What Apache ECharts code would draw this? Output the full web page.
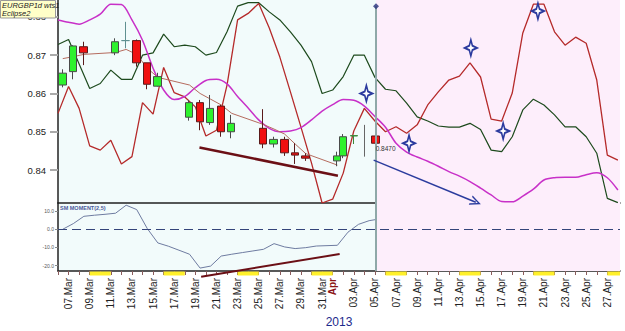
<!DOCTYPE html>
<html><head><meta charset="utf-8">
<script src="https://cdn.jsdelivr.net/npm/echarts@6/dist/echarts.min.js"></script>
<style>html,body{margin:0;padding:0;background:#fff}#c{width:625px;height:331px}</style>
</head><body><div id="c"></div>
<script>
// x unit = days; 0 = start of 06 Mar 2013
const X_MAX = 53.2;
const cursorX = 30.1;
const dayTicks = [0,1,2,3,4,5,6,7,8,9,10,11,12,13,14,15,16,17,18,19,20,21,22,23,24,25,26,27,28,29,30,31,32,33,34,35,36,37,38,39,40,41,42,43,44,45,46,47,48,49,50,51,52,53];
const labelDays = [1,3,5,7,9,11,13,15,17,19,21,23,25,26,28,30,32,34,36,38,40,42,44,46,48,50,52];
const labelTexts = ['07.Mar','09.Mar','11.Mar','13.Mar','15.Mar','17.Mar','19.Mar','21.Mar','23.Mar','25.Mar','27.Mar','29.Mar','31.Mar','Apr','03.Apr','05.Apr','07.Apr','09.Apr','11.Apr','13.Apr','15.Apr','17.Apr','19.Apr','21.Apr','23.Apr','25.Apr','27.Apr'];
const mainYTicks = [0.84,0.85,0.86,0.87,0.88];
const lowYTicks = [10,0,-10,-20];
const weekends = [[3,5],[10,12],[17,19],[24,26],[31,33],[38,40],[45,47],[52,53.2]];

// daily line values at day boundaries 0..53
const greenLine = [0.8728,0.8741,null,0.8613,0.8626,0.8661,0.8637,0.8637,0.8700,0.8706,
 0.8755,0.8722,0.8726,0.8722,0.8700,0.8707,0.8761,0.8828,0.8837,0.8837,
 0.8813,0.8792,0.8761,0.8726,0.8683,0.8600,0.8609,0.8644,0.8700,0.8700,
 0.8642,0.8611,0.8607,0.8575,0.8539,0.8528,0.8515,0.8512,0.8512,0.8522,
 0.8506,0.8452,0.8448,0.8487,0.8557,0.8585,0.8570,0.8544,0.8513,0.8513,
 0.8487,0.8444,0.8326,0.8315];
const redLine = [0.8548,0.8618,0.8561,0.8463,0.8452,0.8478,0.8416,0.8435,0.8576,0.8546,
 0.8668,0.8602,0.8591,0.8565,0.8489,0.8504,0.8622,0.8792,0.8809,0.8835,
 0.8771,0.8695,0.8604,0.8512,0.8418,0.8314,0.8324,0.8392,0.8502,0.8561,
 0.8528,0.8500,0.8513,0.8496,0.8518,0.8570,0.8604,0.8635,0.8645,0.8680,
 0.8643,0.8533,0.8528,0.8601,0.8758,0.8833,0.8833,0.8761,0.8726,0.8747,
 0.8731,0.8635,0.8439,0.8426];
const magentaLine = [0.8792,0.8786,0.8781,0.8792,0.8807,0.8833,0.8832,0.8792,0.8739,0.8666,
 0.8609,0.8584,0.8592,0.8615,0.8634,0.8637,0.8625,0.8592,0.8562,0.8531,
 0.8509,0.8500,0.8502,0.8511,0.8531,0.8554,0.8571,0.8584,0.8582,0.8567,
 0.8540,0.8512,0.8470,0.8447,0.8434,0.8423,0.8410,0.8396,0.8384,0.8370,
 0.8353,0.8335,0.8318,0.8317,0.8332,0.8350,0.8374,0.8380,0.8381,0.8381,
 0.8388,0.8393,0.8380,0.8348];
// moving average and momentum per day (bar time = day + 0.45)
const maLine = [0.8691,0.8696,0.8702,null,null,0.8707,0.8715,0.8702,0.8666,0.8642,
 null,null,0.8622,0.8600,0.8585,0.8570,0.8548,null,null,0.8519,
 0.8507,0.8494,0.8468,0.8443,null,null,0.8413];
const momentum = [0,3.1,7.1,7.7,8.2,8.8,13.2,10.8,0.4,-7.5,
 -9.3,-11.5,-13.7,-21.3,-20.2,-14.7,-13.7,-12.8,-11.9,-11.0,
 -7.9,-9.7,-10.6,-10.1,-9.2,null,-8.8,-1.6,2.7,4.7];
const momentumLast = [30.07, 5.3];

// candles
const candleX     = [0.43,1.43,2.43,5.4,6.4,7.44,8.41,9.44,12.4,13.44,14.41,15.43,16.4,19.4,20.4,21.45,22.42,23.44,26.42,27.0,28.0,30.07];
const candleOpen  = [0.8622,0.8657,0.8722,0.8706,0.8738,0.8738,0.8680,0.8619,0.8538,0.8576,0.8524,0.8567,0.8500,0.8509,0.8468,0.8480,0.8445,0.8437,0.8424,0.8437,0.8489,0.8489];
const candleClose = [0.8653,0.8724,0.8706,0.8735,0.8738,0.8680,0.8624,0.8644,0.8576,0.8526,0.8561,0.8500,0.8522,0.8468,0.8480,0.8445,0.8439,0.8431,0.8437,0.8487,0.8490,0.8470];
const candleLow   = [0.8616,0.8637,0.8674,0.8700,0.8718,0.8670,0.8611,0.8618,0.8529,0.8504,0.8518,0.8487,0.8483,0.8457,0.8459,0.8437,0.8416,0.8424,0.8410,0.8431,0.8468,0.8470];
const candleHigh  = [0.8663,0.8726,0.8735,0.8744,0.8787,0.8741,0.8680,0.8654,0.8583,0.8583,0.8596,0.8570,0.8544,0.8559,0.8487,0.8487,0.8470,0.8444,0.8448,0.8494,0.8491,0.8489];
const wickX = [29.03], wickLow = [0.8435], wickHigh = [0.8518], wickMid = [0.8476];

// signal stars
const starX = [29.19,33.23,39.08,42.14,45.43];
const starY = [0.8600,0.8470,0.8719,0.8502,0.8815];

// drawn trend lines / arrow
const trendMain = [[13.39,0.8459],[26.5,0.8385]];
const trendLow = [[13.55,-26.0],[26.66,-13.6]];
const arrowMain = [[29.88,0.8426],[39.55,0.8316]];
const cursorTop = 0.8828;

const fmtX = v => { const i = labelDays.indexOf(Math.round(v)); if (i < 0) return ''; const t = labelTexts[i]; return t === 'Apr' ? '{apr|Apr}' : t; };

const candleData = candleX.map((x,i) => {
  const item = {value:[x,candleOpen[i],candleClose[i],candleLow[i],candleHigh[i]]};
  if (candleOpen[i] === candleClose[i]) item.itemStyle = {borderColor:'#5f9090', borderColor0:'#5f9090', borderColorDoji:'#5f9090'};
  if (i === 20) item.itemStyle = {borderColor:'#3c8a3c', color:'#3c8a3c'};
  return item;
});
const lastClose = candleClose[candleClose.length-1];
const momentumData = momentum.map((v,i)=>[i+0.45,v]).concat([momentumLast]);

const starPath = 'path://M10,0 L12.6,7.4 L20,10 L12.6,12.6 L10,20 L7.4,12.6 L0,10 L7.4,7.4 Z';
const chevron = 'path://M5,0 L10,10 L8.5,10 L5,3 L1.5,10 L0,10 Z';

const chart = echarts.init(document.getElementById('c'), null, {renderer:'svg', width:625, height:331});
chart.setOption({
  animation:false,
  backgroundColor:'#ffffff',
  textStyle:{fontFamily:'"Liberation Sans", Arial, sans-serif'},
  grid:[
    {left:58,right:5,top:0,height:203,show:true,backgroundColor:'#f2fbfb',borderWidth:0},
    {left:58,right:5,top:203,height:68,show:true,backgroundColor:'#f2fbfb',borderWidth:0},
    {left:58,right:5,top:271.5,height:4}
  ],
  title:{text:'SM MOMENT(2,5)',left:60,top:204.5,padding:0,
    textStyle:{fontSize:5.5,fontWeight:'bold',color:'#4a5a9a',fontFamily:'"Liberation Sans Narrow","Liberation Sans",sans-serif'}},
  xAxis:[
    {gridIndex:0,type:'value',min:0,max:X_MAX,axisLine:{show:true,onZero:false,lineStyle:{color:'#222',width:1.5}},axisTick:{show:false},axisLabel:{show:false},splitLine:{show:false}},
    {gridIndex:1,type:'value',min:0,max:X_MAX,axisLine:{show:true,onZero:false,lineStyle:{color:'#222',width:1.5}},
      axisTick:{show:true,customValues:dayTicks,length:4,lineStyle:{color:'#8a5c5c'}},
      axisLabel:{show:true,customValues:labelDays,rotate:90,formatter:fmtX,fontSize:10,color:'#222',margin:7,
        rich:{apr:{color:'#8b1515',fontWeight:'bold',fontSize:10}}},
      splitLine:{show:false},
      name:'2013',nameLocation:'middle',nameGap:45,nameTextStyle:{color:'#1c2a8c',fontSize:12}},
    {gridIndex:2,type:'value',min:0,max:X_MAX,show:false}
  ],
  yAxis:[
    {gridIndex:0,type:'value',min:0.8314,max:0.8844,axisLine:{show:true,lineStyle:{color:'#222',width:1.5}},
      axisTick:{show:true,customValues:mainYTicks,length:8,lineStyle:{color:'#aaa',width:2}},
      axisLabel:{customValues:mainYTicks,formatter:v=>v.toFixed(2),fontSize:9.5,color:'#222',margin:12},
      splitLine:{show:false}},
    {gridIndex:1,type:'value',min:-22.9,max:14.4,axisLine:{show:true,lineStyle:{color:'#222',width:1.5}},
      axisTick:{show:true,customValues:lowYTicks,length:3,lineStyle:{color:'#888'}},
      axisLabel:{customValues:lowYTicks,formatter:v=>v.toFixed(1),fontSize:5,color:'#555',margin:4},
      splitLine:{show:false}},
    {gridIndex:2,type:'value',min:0,max:1,show:false}
  ],
  series:[
    {type:'line',xAxisIndex:0,yAxisIndex:0,data:[],z:1,silent:true,
      markArea:{silent:true,itemStyle:{color:'#fdeefb'},data:[[{xAxis:cursorX},{xAxis:X_MAX}]]},
      markLine:{silent:true,symbol:['none','none'],label:{show:false},lineStyle:{color:'#8fa8a8',width:2,type:'solid'},
        data:[[{coord:[cursorX,0.8314]},{coord:[cursorX,cursorTop]}]]}},
    {type:'line',xAxisIndex:1,yAxisIndex:1,data:[],z:1,silent:true,
      markArea:{silent:true,itemStyle:{color:'#fdeefb'},data:[[{xAxis:cursorX},{xAxis:X_MAX}]]},
      markLine:{silent:true,symbol:['none','none'],label:{show:false},lineStyle:{color:'#8fa8a8',width:2,type:'solid'},
        data:[{xAxis:cursorX}]}},
    {type:'line',xAxisIndex:2,yAxisIndex:2,data:[],z:1,silent:true,
      markArea:{silent:true,itemStyle:{color:'#fff02a'},data:weekends.map(w=>[{xAxis:w[0]},{xAxis:w[1]}])}},
    {name:'green',type:'line',xAxisIndex:0,yAxisIndex:0,data:greenLine.map((v,i)=>[i,v]),connectNulls:true,showSymbol:false,
      lineStyle:{color:'#1d4a1d',width:1.2},z:3},
    {name:'red',type:'line',xAxisIndex:0,yAxisIndex:0,data:redLine.map((v,i)=>[i,v]),connectNulls:true,showSymbol:false,
      lineStyle:{color:'#b52a2a',width:1.3},z:3},
    {name:'magenta',type:'line',xAxisIndex:0,yAxisIndex:0,data:magentaLine.map((v,i)=>[i,v]),smooth:0.3,showSymbol:false,
      lineStyle:{color:'#c830c8',width:1.5},z:3},
    {name:'ma',type:'line',xAxisIndex:0,yAxisIndex:0,data:maLine.map((v,i)=>[i+0.45,v]),connectNulls:true,showSymbol:false,
      lineStyle:{color:'#b56b5e',width:1},z:3},
    {name:'trend',type:'line',xAxisIndex:0,yAxisIndex:0,data:trendMain,showSymbol:false,
      lineStyle:{color:'#6b0f15',width:2.5},z:3},
    {name:'arrow',type:'line',xAxisIndex:0,yAxisIndex:0,data:[],z:3,
      markLine:{silent:true,symbol:['none',chevron],symbolSize:[10,11],label:{show:false},
        lineStyle:{color:'#2b3c9e',width:1.5,type:'solid'},itemStyle:{color:'#2b3c9e'},
        data:[[{coord:arrowMain[0]},{coord:arrowMain[1]}]]}},
    {name:'candles',type:'candlestick',xAxisIndex:0,yAxisIndex:0,encode:{x:0,y:[1,2,3,4]},barWidth:8,z:4,
      itemStyle:{color:'#2ef22e',color0:'#f01010',borderColor:'#4a4a4a',borderColor0:'#5a1a1a',borderWidth:1},
      data:candleData,
      markPoint:{silent:true,symbol:'circle',symbolSize:0,
        label:{show:true,position:'right',distance:0,offset:[0,5],formatter:lastClose.toFixed(4),fontSize:6.5,color:'#333'},
        data:[{coord:[candleX[candleX.length-1],lastClose]}]}},
    {name:'wick',type:'candlestick',xAxisIndex:0,yAxisIndex:0,encode:{x:0,y:[1,2,3,4]},barWidth:1,z:4,
      itemStyle:{color:'#666',color0:'#666',borderColor:'#666',borderColor0:'#666',borderColorDoji:'#666',borderWidth:1},
      data:wickX.map((x,i)=>[x,wickMid[i],wickMid[i],wickLow[i],wickHigh[i]])},
    {name:'stars',type:'scatter',xAxisIndex:0,yAxisIndex:0,symbol:starPath,symbolSize:[12,16],z:5,
      itemStyle:{color:'#ffffff',borderColor:'#2b3a9e',borderWidth:1.8,opacity:1},
      data:starX.map((x,i)=>[x,starY[i]])},
    {name:'cursor',type:'scatter',xAxisIndex:0,yAxisIndex:0,symbol:'diamond',symbolSize:6,z:5,
      itemStyle:{color:'#26307a'},data:[[cursorX,cursorTop]]},
    {name:'momentum',type:'line',xAxisIndex:1,yAxisIndex:1,data:momentumData,connectNulls:true,showSymbol:false,
      lineStyle:{color:'#6e7ba0',width:1},z:3,
      markLine:{silent:true,symbol:['none','none'],label:{show:false},lineStyle:{color:'#34447a',width:1,type:[9,5]},data:[{yAxis:0}]}},
    {name:'trendLow',type:'line',xAxisIndex:1,yAxisIndex:1,data:trendLow,showSymbol:false,clip:false,
      lineStyle:{color:'#6b0f15',width:2},z:6}
  ],
  graphic:[
    {type:'rect',left:0,top:0,z:100,shape:{width:55,height:17.5},style:{fill:'#ffffc8',stroke:'#999',lineWidth:1}},
    {type:'text',left:2,top:1,z:101,style:{text:'EURGBP1d wts1',font:'italic 7.5px "Liberation Sans Narrow","Liberation Sans",sans-serif',fill:'#222'}},
    {type:'text',left:2,top:9,z:101,style:{text:'Eclipse2',font:'italic 7.5px "Liberation Sans Narrow","Liberation Sans",sans-serif',fill:'#222'}}
  ]
});
</script>
</body></html>
